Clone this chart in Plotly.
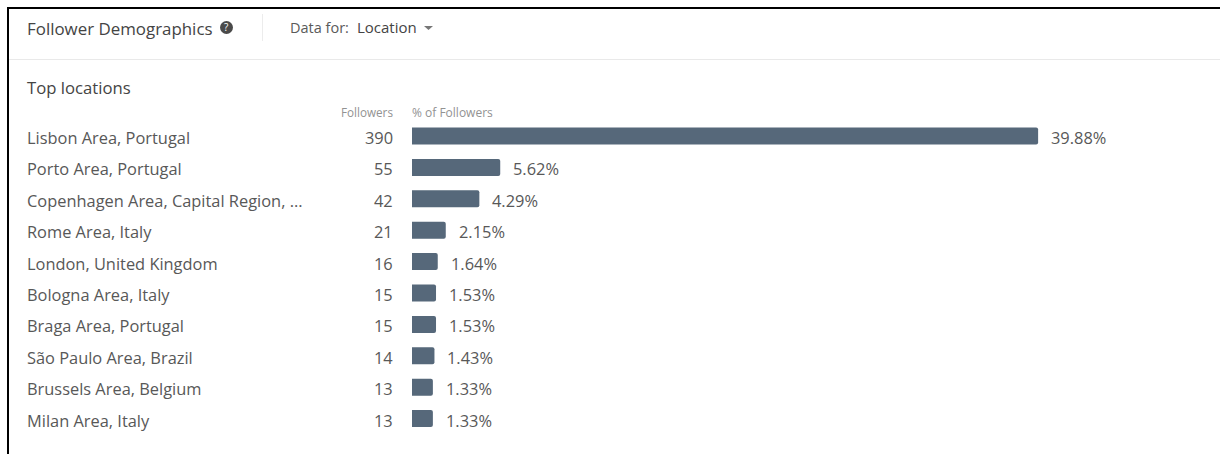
import plotly.graph_objects as go

WIDTH = 1220
HEIGHT = 454

locations = [
    "Lisbon Area, Portugal",
    "Porto Area, Portugal",
    "Copenhagen Area, Capital Region,\u00a0...",
    "Rome Area, Italy",
    "London, United Kingdom",
    "Bologna Area, Italy",
    "Braga Area, Portugal",
    "São Paulo Area, Brazil",
    "Brussels Area, Belgium",
    "Milan Area, Italy",
]
followers = [390, 55, 42, 21, 16, 15, 15, 14, 13, 13]
percent_of_followers = [39.88, 5.62, 4.29, 2.15, 1.64, 1.53, 1.53, 1.43, 1.33, 1.33]

FONT = "Open Sans"
BAR_COLOR = "#56687a"
TEXT = "#585858"
MUTED = "#929292"
ROW_SIZE = 16.4

# Axis scales: pixels per unit, and where the first row and the zero line sit.
PX_PER_PCT = 15.7
ZERO_X = 412
ROW_STEP = 31.4
FIRST_ROW_Y = 136
rows = list(range(len(locations)))


def px(x):
    return x / WIDTH


def py(y):
    return 1 - y / HEIGHT


fig = go.Figure(
    go.Bar(
        x=percent_of_followers,
        y=rows,
        orientation="h",
        width=17 / ROW_STEP,
        marker=dict(color=BAR_COLOR, line_width=0, cornerradius=2),
        hoverinfo="skip",
    )
)

annotations = []


def label(x, y, text, size=14, color=TEXT, anchor="left"):
    annotations.append(
        dict(
            xref="paper", yref="paper", x=px(x), y=py(y), text=text, showarrow=False,
            xanchor=anchor, yanchor="middle", align=anchor,
            font=dict(family=FONT, size=size, color=color),
        )
    )


# Card header and section titles
label(25, 28, "Follower Demographics", size=16.9, color="#444444")
label(226.5, 27.5, "?", size=10, color="white", anchor="center")
label(288, 27, "Data for:", size=14.5, color="#5a5a5a")
label(355, 27, "Location", size=15, color="#444444")
label(25, 88, "Top locations", size=16.7, color="#444444")
label(395, 112.5, "Followers", size=11.7, color=MUTED, anchor="right")
label(410, 112.5, "% of Followers", size=12, color=MUTED)

# One table row per location, positioned on the data axes
ROW_TEXT_SHIFT = -1.5
for name, count, pct, row in zip(locations, followers, percent_of_followers, rows):
    annotations.append(dict(
        xref="paper", yref="y", x=px(25), y=row, text=name, showarrow=False,
        xanchor="left", yanchor="middle", yshift=ROW_TEXT_SHIFT,
        font=dict(family=FONT, size=ROW_SIZE, color=TEXT),
    ))
    annotations.append(dict(
        xref="paper", yref="y", x=px(395), y=row, text=str(count), showarrow=False,
        xanchor="right", yanchor="middle", yshift=ROW_TEXT_SHIFT,
        font=dict(family=FONT, size=ROW_SIZE, color=TEXT),
    ))
    annotations.append(dict(
        xref="x", yref="y", x=pct, y=row, text=f"{pct:.2f}%", showarrow=False,
        xanchor="left", yanchor="middle", xshift=11, yshift=ROW_TEXT_SHIFT,
        font=dict(family=FONT, size=ROW_SIZE, color=TEXT),
    ))

shapes = [
    # Black frame along the top and left edges
    dict(type="rect", xref="paper", yref="paper", x0=px(7), x1=1, y0=py(9), y1=py(7),
         fillcolor="black", line_width=0),
    dict(type="rect", xref="paper", yref="paper", x0=px(7), x1=px(9), y0=0, y1=py(7),
         fillcolor="black", line_width=0),
    # Header dividers
    dict(type="line", xref="paper", yref="paper", x0=px(9), x1=1, y0=py(59.5), y1=py(59.5),
         line=dict(color="#e9e9e9", width=1)),
    dict(type="line", xref="paper", yref="paper", x0=px(262.5), x1=px(262.5), y0=py(14), y1=py(41),
         line=dict(color="#ececec", width=1)),
    # Help icon behind the question mark
    dict(type="circle", xref="paper", yref="paper", x0=px(220), x1=px(233), y0=py(34), y1=py(21),
         fillcolor="#4a4a4a", line_width=0),
    # Dropdown caret
    dict(type="path", xref="paper", yref="paper",
         path=f"M {px(424)} {py(26)} L {px(433)} {py(26)} L {px(428.5)} {py(30)} Z",
         fillcolor="#777777", line_width=0),
]

fig.update_layout(
    width=WIDTH,
    height=HEIGHT,
    margin=dict(l=0, r=0, t=0, b=0),
    paper_bgcolor="white",
    plot_bgcolor="white",
    showlegend=False,
    xaxis=dict(
        range=[-ZERO_X / PX_PER_PCT, (WIDTH - ZERO_X) / PX_PER_PCT],
        visible=False, fixedrange=True,
    ),
    yaxis=dict(
        range=[(HEIGHT - FIRST_ROW_Y) / ROW_STEP, -FIRST_ROW_Y / ROW_STEP],
        visible=False, fixedrange=True,
    ),
    annotations=annotations,
    shapes=shapes,
)

fig.write_html("out.html", config=dict(displayModeBar=False))
